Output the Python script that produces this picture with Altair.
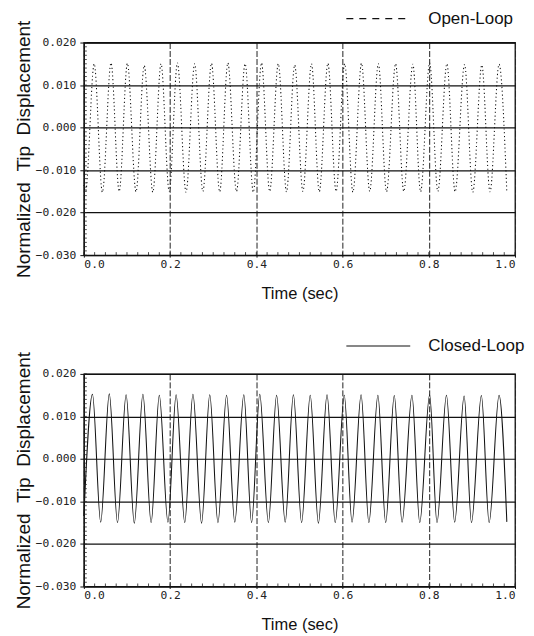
import altair as alt
import pandas as pd

# ---- data ----
# Open-loop (top panel): start, peaks and troughs
open_start_t = [0.000, 0.004]
open_start_y = [-0.0135, -0.0150]
open_peak_t = [0.024, 0.063, 0.101, 0.140, 0.179, 0.217, 0.257, 0.296, 0.334, 0.374,
               0.412, 0.451, 0.489, 0.528, 0.566, 0.605, 0.644, 0.683, 0.723, 0.763,
               0.802, 0.842, 0.883, 0.923, 0.963]
open_peak_y = [0.0150, 0.0152, 0.0151, 0.0146, 0.0150, 0.0152, 0.0150, 0.0151, 0.0152, 0.0150,
               0.0152, 0.0150, 0.0147, 0.0150, 0.0151, 0.0150, 0.0151, 0.0150, 0.0150, 0.0149,
               0.0152, 0.0150, 0.0148, 0.0147, 0.0149]
open_trough_t = [0.043, 0.082, 0.121, 0.160, 0.198, 0.237, 0.276, 0.315, 0.354, 0.393,
                 0.431, 0.470, 0.508, 0.546, 0.585, 0.624, 0.663, 0.702, 0.742, 0.781,
                 0.821, 0.861, 0.902, 0.942, 0.981]
open_trough_y = [-0.0152, -0.0150, -0.0151, -0.0152, -0.0150, -0.0152, -0.0150, -0.0151, -0.0150, -0.0152,
                 -0.0150, -0.0151, -0.0150, -0.0151, -0.0150, -0.0152, -0.0150, -0.0151, -0.0150, -0.0151,
                 -0.0150, -0.0151, -0.0152, -0.0151, -0.0152]

# Closed-loop (bottom panel)
closed_start_t = [0.000]
closed_start_y = [-0.0134]
closed_peak_t = [0.020, 0.059, 0.098, 0.137, 0.175, 0.214, 0.253, 0.292, 0.331, 0.371,
                 0.408, 0.447, 0.486, 0.525, 0.564, 0.604, 0.643, 0.682, 0.720, 0.761,
                 0.802, 0.841, 0.882, 0.922, 0.963]
closed_peak_y = [0.0152, 0.0153, 0.0151, 0.0152, 0.0150, 0.0151, 0.0152, 0.0151, 0.0150, 0.0151,
                 0.0152, 0.0150, 0.0151, 0.0150, 0.0151, 0.0150, 0.0151, 0.0150, 0.0149, 0.0150,
                 0.0151, 0.0150, 0.0148, 0.0149, 0.0150]
closed_trough_t = [0.039, 0.078, 0.117, 0.156, 0.195, 0.234, 0.273, 0.311, 0.350, 0.389,
                   0.428, 0.467, 0.505, 0.544, 0.583, 0.622, 0.661, 0.700, 0.738, 0.779,
                   0.819, 0.860, 0.899, 0.940, 0.981]
closed_trough_y = [-0.0149, -0.0150, -0.0151, -0.0150, -0.0149, -0.0150, -0.0151, -0.0150, -0.0149, -0.0150,
                   -0.0150, -0.0149, -0.0150, -0.0151, -0.0150, -0.0149, -0.0150, -0.0150, -0.0149, -0.0150,
                   -0.0150, -0.0149, -0.0150, -0.0150, -0.0148]

x_ticks = [0.0, 0.2, 0.4, 0.6, 0.8, 1.0]
y_ticks = [-0.030, -0.020, -0.010, 0.000, 0.010, 0.020]
y_minor = [round(-0.030 + 0.001 * i, 3) for i in range(51)]
x_minor = [round(0.025 * i, 3) for i in range(41)]

Y_TITLE = "Normalized\u00a0\u00a0Tip\u00a0\u00a0Displacement"

W, H = 432, 213
LABEL_FONT = "DejaVu Sans Mono"
TEXT_FONT = "Liberation Sans"


def make_df(st, sy, pt, py, tt, ty):
    t = list(st) + list(pt) + list(tt)
    y = list(sy) + list(py) + list(ty)
    return pd.DataFrame({"t": t, "y": y}).sort_values("t").reset_index(drop=True)


def panel(df, dash, legend_label, legend_dash, legend_y):
    x_enc = alt.X("t:Q", scale=alt.Scale(domain=[0, 1], nice=False),
                  axis=alt.Axis(values=x_ticks, format=".1f", title="Time (sec)",
                                grid=True, gridDash=[6, 2], gridColor="#222", gridWidth=1,
                                tickSize=2, labelPadding=1, titlePadding=16))
    y_enc = alt.Y("y:Q", scale=alt.Scale(domain=[-0.030, 0.020], nice=False),
                  axis=alt.Axis(values=y_ticks, format=".3f", title=Y_TITLE,
                                grid=True, gridColor="#111", gridWidth=1.2,
                                tickSize=4, labelPadding=4, titlePadding=2))
    line_kwargs = dict(interpolate="monotone", color="#111", strokeWidth=1.05)
    if dash:
        line_kwargs["strokeDash"] = dash
    line = alt.Chart(df).mark_line(**line_kwargs).encode(x=x_enc, y=y_enc)

    ym = alt.Chart(pd.DataFrame({"y": y_minor})).mark_rule(color="#222", strokeWidth=0.8).encode(
        y="y:Q", x=alt.value(0), x2=alt.value(3))
    xm = alt.Chart(pd.DataFrame({"t": x_minor})).mark_rule(color="#222", strokeWidth=0.8).encode(
        x="t:Q", y=alt.value(H), y2=alt.value(H - 3))

    one = pd.DataFrame({"k": [0]})
    rule_kwargs = dict(color="#111", strokeWidth=1.1)
    if legend_dash:
        rule_kwargs["strokeDash"] = legend_dash
    leg_line = alt.Chart(one).mark_rule(**rule_kwargs).encode(
        x=alt.value(263), x2=alt.value(327), y=alt.value(legend_y))
    leg_text = alt.Chart(one).mark_text(text=legend_label, align="left", baseline="middle",
                                        font=TEXT_FONT, fontSize=17, color="#111").encode(
        x=alt.value(345), y=alt.value(legend_y))

    return alt.layer(line, ym, xm, leg_line, leg_text).properties(width=W, height=H)


df_open = make_df(open_start_t, open_start_y, open_peak_t, open_peak_y, open_trough_t, open_trough_y)
df_closed = make_df(closed_start_t, closed_start_y, closed_peak_t, closed_peak_y,
                    closed_trough_t, closed_trough_y)

top = panel(df_open, [1.2, 2.6], "Open-Loop", [7, 6], -24)
bottom = panel(df_closed, None, "Closed-Loop", None, -28)

chart = alt.vconcat(top, bottom, spacing=33).properties(
    padding={"top": 0, "left": 5, "right": 0, "bottom": 0}
).configure_view(
    stroke="#111", strokeWidth=1.3
).configure_axis(
    labelFont=LABEL_FONT, labelFontSize=11.3, labelColor="#222",
    titleFont=TEXT_FONT, titleFontSize=19, titleFontWeight="normal", titleColor="#111",
    domainColor="#111", tickColor="#111"
).configure_axisX(
    titleFontSize=16.5
)

chart.save("out.html", embed_options={"renderer": "svg", "actions": False})
